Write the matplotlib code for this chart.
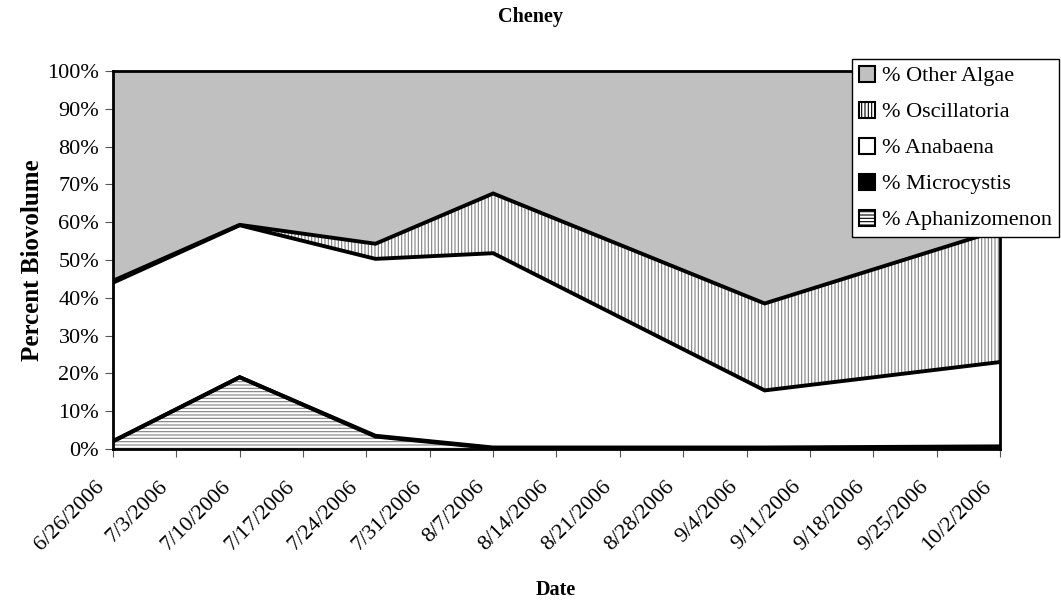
import datetime as dt
import numpy as np
import matplotlib
matplotlib.use("Agg")
import matplotlib.pyplot as plt
import matplotlib.dates as mdates
import matplotlib.transforms as mtransforms
from matplotlib.patches import Patch

plt.rcParams['font.family'] = ['Liberation Serif', 'DejaVu Serif']
plt.rcParams['hatch.linewidth'] = 0.8

dates = [dt.date(2006, 6, 26), dt.date(2006, 7, 10), dt.date(2006, 7, 25),
         dt.date(2006, 8, 7), dt.date(2006, 9, 6), dt.date(2006, 10, 2)]
aphanizomenon = [2.0, 19.0, 3.3, 0.2, 0.1, 0.2]
microcystis = [0.1, 0.0, 0.2, 0.2, 0.3, 0.5]
anabaena = [41.9, 40.2, 46.8, 51.4, 15.1, 22.3]
oscillatoria = [0.5, 0.1, 4.0, 15.8, 23.0, 35.0]
labels = ["% Aphanizomenon", "% Microcystis", "% Anabaena", "% Oscillatoria", "% Other Algae"]

tick_dates = [dt.date(2006, 6, 26) + dt.timedelta(days=7 * i) for i in range(15)]
tick_labels = [f"{d.month}/{d.day}/{d.year}" for d in tick_dates]

layers = np.array([aphanizomenon, microcystis, anabaena, oscillatoria])
tops = np.cumsum(layers, axis=0)
other = 100 - tops[-1]
tops = np.vstack([tops, tops[-1] + other])
x = mdates.date2num(dates)

# face, hatch, hatch colour
styles = [
    ('white', '-----', '#808080'),
    ('black', None, 'black'),
    ('white', None, 'white'),
    ('white', '|||||', '#808080'),
    ('#c0c0c0', None, '#c0c0c0'),
]

fig = plt.figure(figsize=(10.61, 6.07), dpi=100)
ax = fig.add_axes([0.1065, 0.2603, 0.836, 0.6227])

bottom = np.zeros(len(x))
for i, top in enumerate(tops):
    face, hatch, hc = styles[i]
    ax.fill_between(x, bottom, top, facecolor=face, edgecolor=hc, hatch=hatch, linewidth=0)
    bottom = top
for top in tops[:-1]:
    ax.plot(x, top, color='black', linewidth=2.8, solid_joinstyle='miter')

ax.set_xlim(mdates.date2num(tick_dates[0]), mdates.date2num(tick_dates[-1]))
ax.set_ylim(0, 100)
tick_x = mdates.date2num(tick_dates)
ax.set_xticks(tick_x)
ax.set_xticklabels([])
# rotated date labels, nudged left like the original
trans = ax.get_xaxis_transform() + mtransforms.ScaledTranslation(-0.18, -0.28, fig.dpi_scale_trans)
for tx, lab in zip(tick_x, tick_labels):
    ax.text(tx, 0, lab, transform=trans, rotation=45, ha='right', va='top',
            rotation_mode='anchor', fontsize=16, clip_on=False)
ax.set_yticks(range(0, 101, 10))
ax.set_yticklabels([f"{v}%" for v in range(0, 101, 10)], fontsize=16)
ax.tick_params(axis='x', direction='out', length=6, color='#555555')
ax.tick_params(axis='y', direction='out', length=6, color='#555555', pad=4)
for s in ax.spines.values():
    s.set_linewidth(2)
    s.set_color('black')
ax.set_zorder(1)

ax.set_ylabel("Percent Biovolume", fontsize=18, fontweight='bold', labelpad=2)
fig.text(0.524, 0.028, "Date", ha='center', va='center', fontsize=14.5, fontweight='bold')
fig.text(0.5, 0.972, "Cheney", ha='center', va='center', fontsize=14.5, fontweight='bold')

handles = []
for i in [4, 3, 2, 1, 0]:
    face, hatch, hc = styles[i]
    handles.append(Patch(facecolor=face, edgecolor='black', hatch=hatch, linewidth=1.5))
leg = fig.legend(handles, [labels[i] for i in [4, 3, 2, 1, 0]],
                 loc='upper left', bbox_to_anchor=(0.803, 0.903), fontsize=16,
                 frameon=True, fancybox=False, framealpha=1, edgecolor='black',
                 handlelength=0.75, handleheight=0.75, handletextpad=0.3,
                 labelspacing=0.68, borderpad=0.3, borderaxespad=0)
leg.get_frame().set_linewidth(1)
leg.set_zorder(5)

fig.savefig("out.png", dpi=100)
